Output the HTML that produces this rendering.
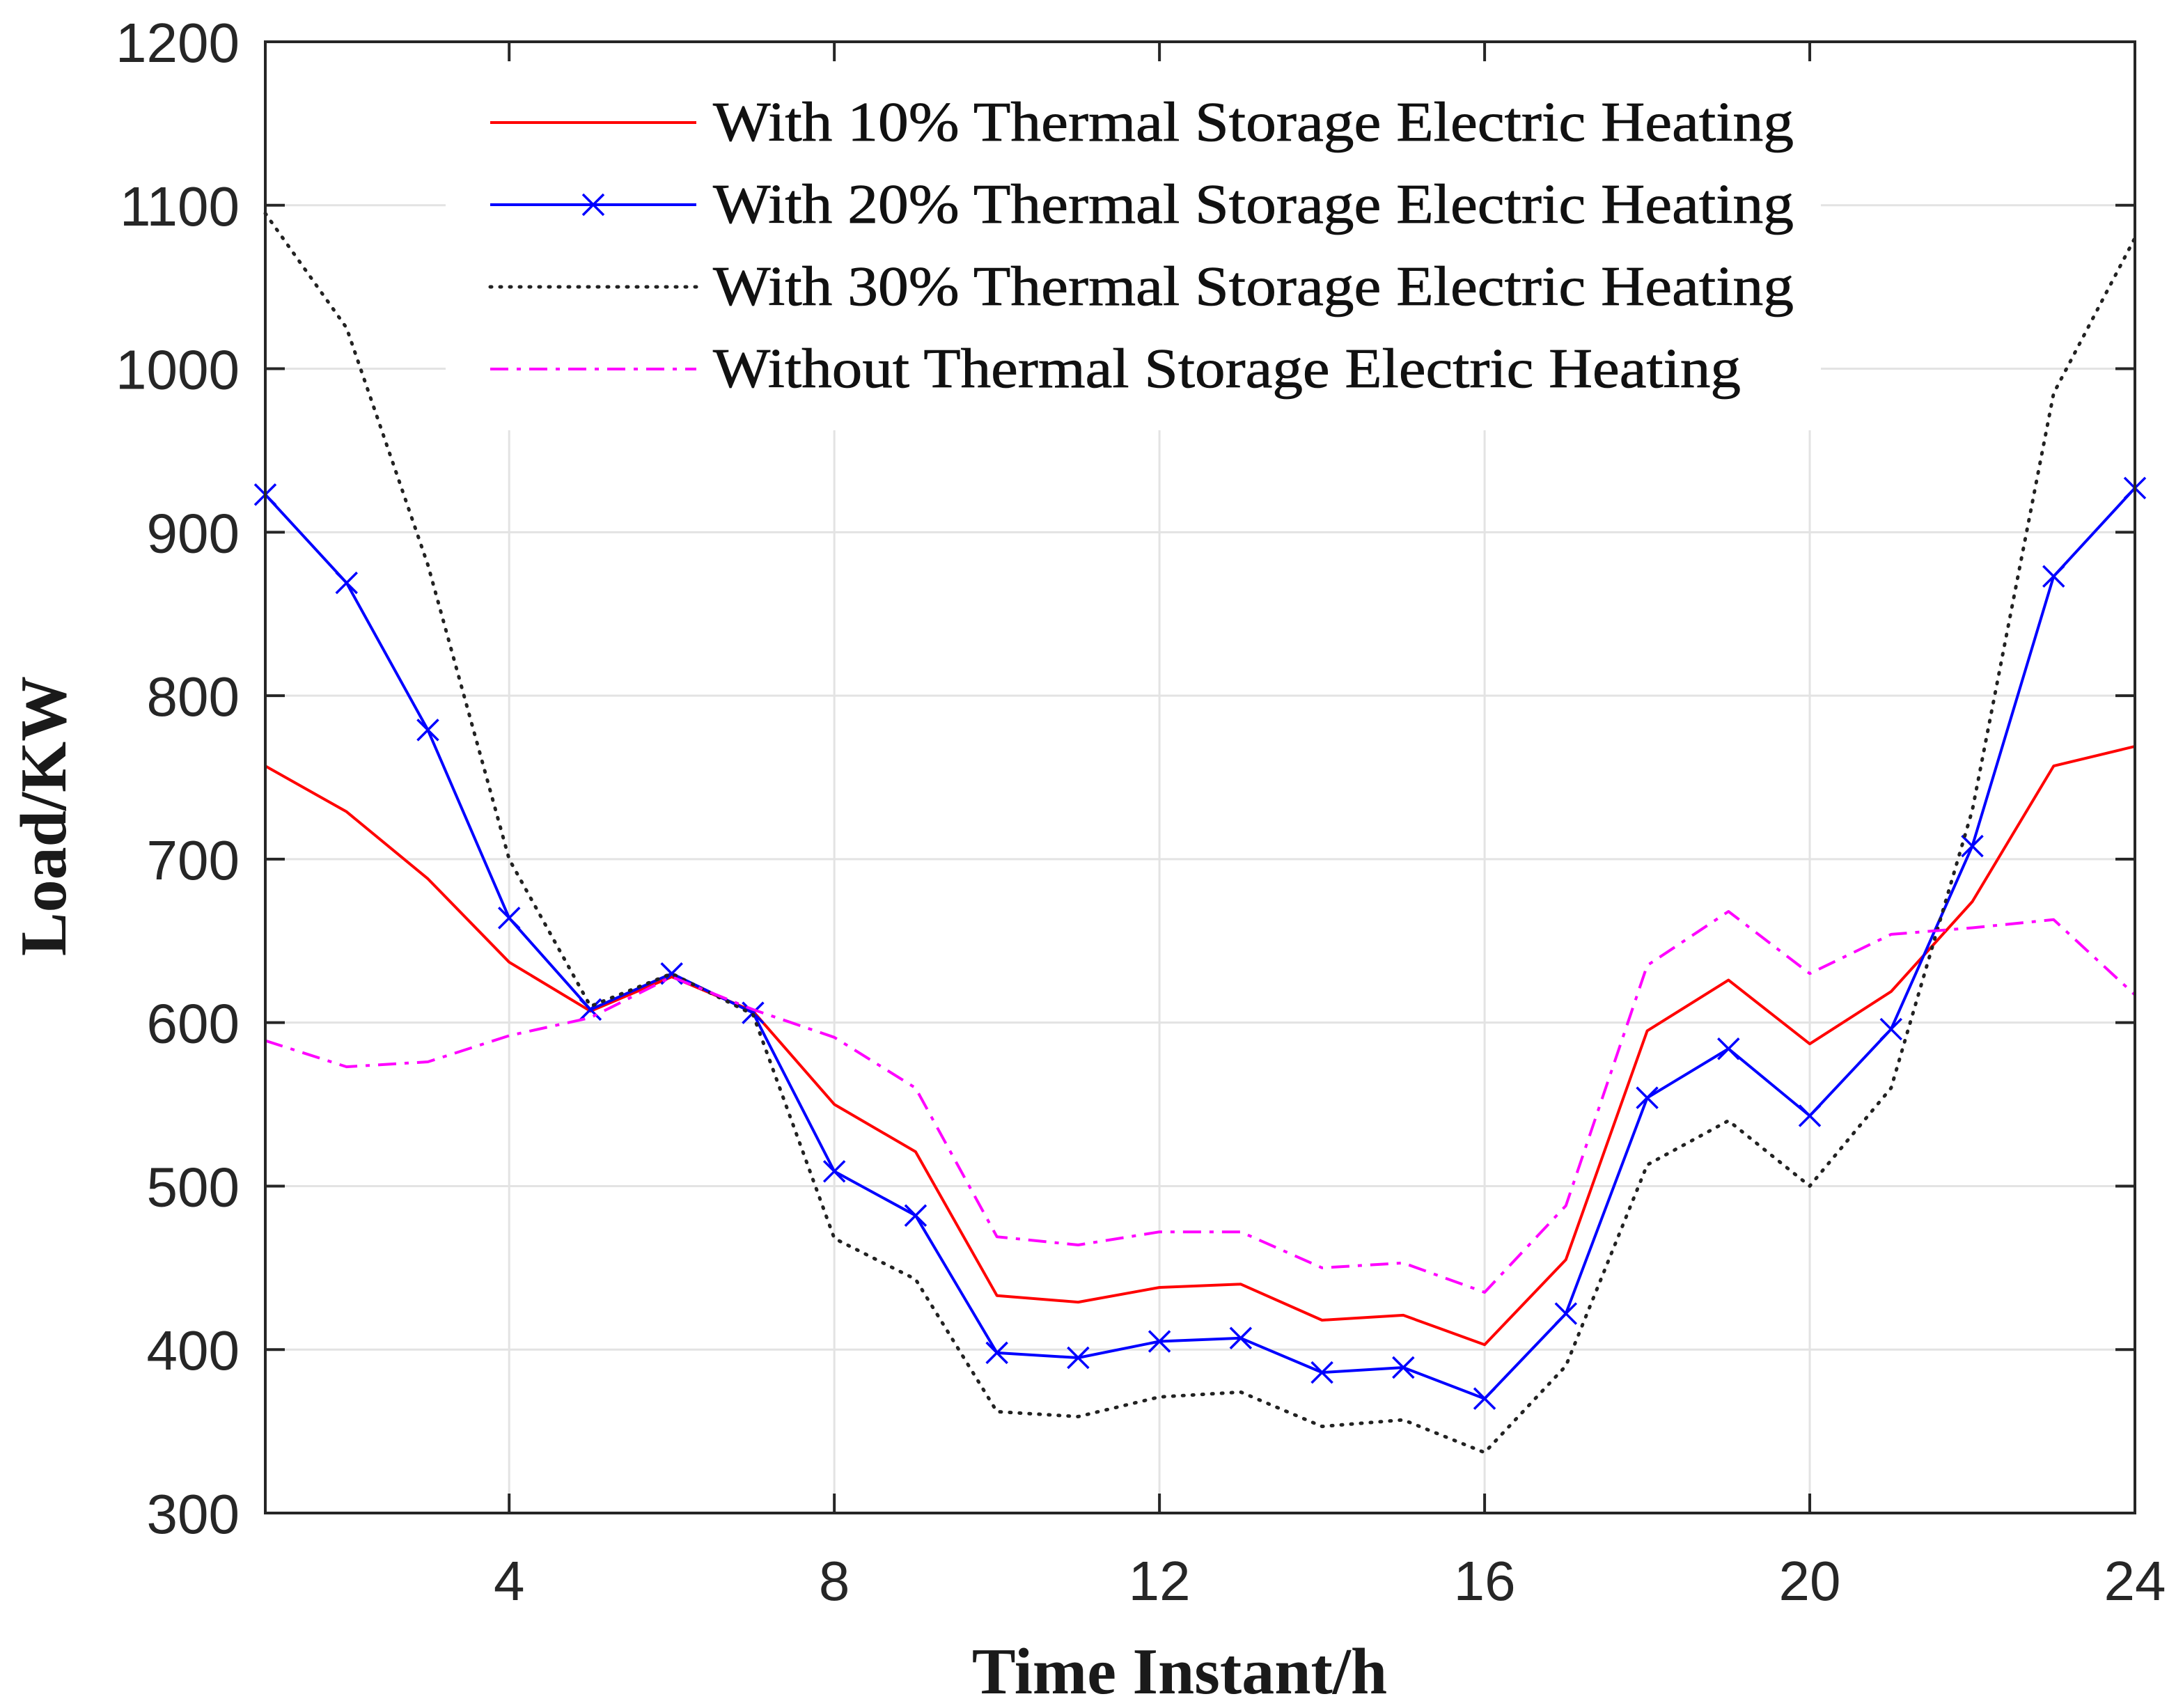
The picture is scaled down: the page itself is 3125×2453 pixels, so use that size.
<!DOCTYPE html>
<html><head><meta charset="utf-8"><style>
html,body{margin:0;padding:0;background:#fff}
svg{display:block}
</style></head><body>
<svg id="chart" width="3125" height="2453" viewBox="0 0 3125 2453" xmlns="http://www.w3.org/2000/svg">
<rect width="3125" height="2453" fill="#fff"/>
<g id="grid"></g>
<g id="series"></g>
<rect x="640" y="62" width="1975" height="556" fill="#fff"/>
<g id="axes"></g>
<g id="legend"></g>
<text x="1694" y="2432" text-anchor="middle" font-family="Liberation Serif, serif" font-weight="bold" font-size="94" fill="#1a1a1a">Time Instant/h</text>
<text transform="translate(94,1172) rotate(-90)" text-anchor="middle" font-family="Liberation Serif, serif" font-weight="bold" font-size="94" fill="#1a1a1a">Load/KW</text>
</svg>
<script>
const hours = [1,2,3,4,5,6,7,8,9,10,11,12,13,14,15,16,17,18,19,20,21,22,23,24];
const with10 = [757,729,688,637,607,628,607,550,521,433,429,438,440,418,421,403,455,595,626,587,619,674,757,769];
const with20 = [923,869,779,664,608,630,606,509,482,398,395,405,407,386,389,370,422,554,584,543,596,708,873,927];
const with30 = [1095,1025,880,700,610,630,605,468,443,362,359,371,374,353,357,337,390,513,540,500,560,730,985,1080];
const without = [589,573,576,592,603,628,608,591,560,469,464,472,472,450,453,435,488,635,668,630,654,658,663,617];
const xTicks = [4,8,12,16,20,24];
const yTicks = [300,400,500,600,700,800,900,1000,1100,1200];
const legendLabels = ["With 10% Thermal Storage Electric Heating","With 20% Thermal Storage Electric Heating","With 30% Thermal Storage Electric Heating","Without Thermal Storage Electric Heating"];

const L=381,R=3066,T=60,B=2173;
const X=v=>L+(v-1)/(24-1)*(R-L);
const Y=v=>B-(v-300)/(1200-300)*(B-T);
const NS="http://www.w3.org/2000/svg";
function mk(tag,attrs,parent){const e=document.createElementNS(NS,tag);for(const k in attrs)e.setAttribute(k,attrs[k]);parent.appendChild(e);return e;}
const grid=document.getElementById('grid'),axes=document.getElementById('axes'),ser=document.getElementById('series'),leg=document.getElementById('legend');

xTicks.forEach(t=>{
  const g=mk('line',{x1:X(t),x2:X(t),y1:T,y2:B,stroke:'#e3e3e3','stroke-width':3},grid);
  
  
  const tk=mk('line',{x1:X(t),x2:X(t),y1:B,y2:B-28,stroke:'#262626','stroke-width':4},axes);
  
  
  const tk2=mk('line',{x1:X(t),x2:X(t),y1:T,y2:T+28,stroke:'#262626','stroke-width':4},axes);
  
  
  const tx=mk('text',{x:X(t),y:2298,'text-anchor':'middle','font-family':'Liberation Sans, sans-serif','font-size':80,fill:'#262626'},axes);
  tx.textContent=t;
  
  
});
yTicks.forEach(t=>{
  const g=mk('line',{x1:L,x2:R,y1:Y(t),y2:Y(t),stroke:'#e3e3e3','stroke-width':3},grid);
  
  
  const tk=mk('line',{x1:L,x2:L+28,y1:Y(t),y2:Y(t),stroke:'#262626','stroke-width':4},axes);
  
  
  const tk2=mk('line',{x1:R,x2:R-28,y1:Y(t),y2:Y(t),stroke:'#262626','stroke-width':4},axes);
  
  
  const tx=mk('text',{x:344,y:Y(t)+29,'text-anchor':'end','font-family':'Liberation Sans, sans-serif','font-size':80,fill:'#262626'},axes);
  tx.textContent=t;
  
  
});
const frame=mk('rect',{x:L,y:T,width:R-L,height:B-T,fill:'none',stroke:'#262626','stroke-width':4},axes);



const styles=[
 {data:with10,color:'#ff0000',dash:null,name:'line-10-percent'},
 {data:with20,color:'#0000ff',dash:null,name:'line-20-percent',marker:true},
 {data:with30,color:'#222',dash:'2 12',name:'line-30-percent',cap:'round'},
 {data:without,color:'#ff00ff',dash:'26 12 6 12',name:'line-without-storage'}
];
function drawX(cx,cy,parent,name){
  const s=15;
  const p=mk('path',{d:`M${cx-s},${cy-s}L${cx+s},${cy+s}M${cx-s},${cy+s}L${cx+s},${cy-s}`,stroke:'#0000ff','stroke-width':3.5,fill:'none'},parent);
  
  
}
styles.forEach(s=>{
  const d=s.data.map((v,i)=>(i?'L':'M')+X(hours[i]).toFixed(1)+','+Y(v).toFixed(1)).join('');
  const a={d:d,fill:'none',stroke:s.color,'stroke-width':s.cap?5:4,'stroke-linejoin':'round'};
  if(s.dash)a['stroke-dasharray']=s.dash;
  if(s.cap)a['stroke-linecap']=s.cap;
  const p=mk('path',a,ser);
  
  
  if(s.marker)s.data.forEach((v,i)=>drawX(X(hours[i]),Y(v),ser,'marker-20-percent'));
});

const rows=[176,294,412,530];
const widths=[1552,1552,1552,1476];
styles.forEach((s,i)=>{
  const y=rows[i];
  const a={x1:704,x2:1000,y1:y,y2:y,stroke:s.color,'stroke-width':s.cap?5:4};
  if(s.dash)a['stroke-dasharray']=s.dash;
  if(s.cap)a['stroke-linecap']=s.cap;
  const ln=mk('line',a,leg);
  
  
  if(s.marker)drawX(852,y,leg,'legend-marker');
  const tx=mk('text',{x:1024,y:y+26,'font-family':'Liberation Serif, serif','font-size':80,fill:'#111',stroke:'#111','stroke-width':0.8,textLength:widths[i],lengthAdjust:'spacingAndGlyphs'},leg);
  tx.textContent=legendLabels[i];
  
  
});
</script>
</body></html>
